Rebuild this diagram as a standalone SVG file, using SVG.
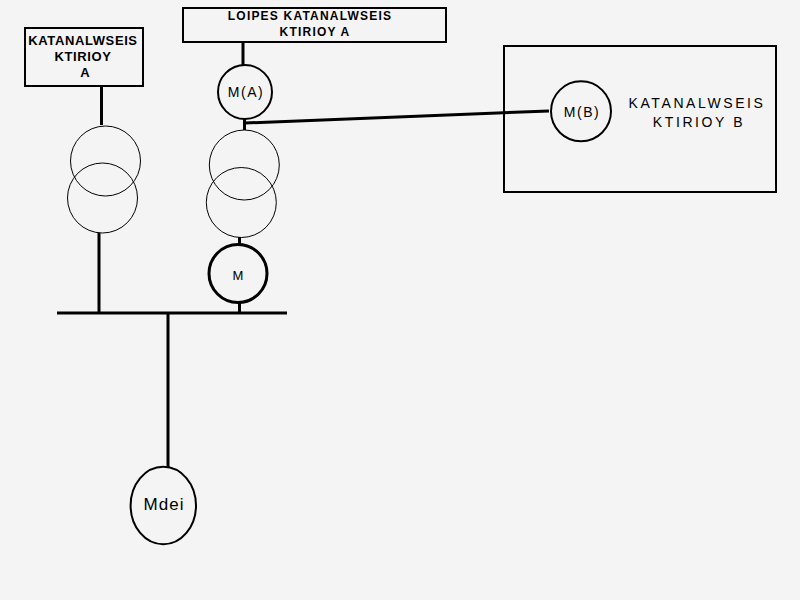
<svg xmlns="http://www.w3.org/2000/svg" width="800" height="600" viewBox="0 0 800 600">
<style>
.box{fill:none;stroke:#000;stroke-width:2}
.thin{fill:none;stroke:#000;stroke-width:1}
.med{fill:none;stroke:#000;stroke-width:2}
.thick{fill:none;stroke:#000;stroke-width:3}
.wire{stroke:#000;stroke-width:3;fill:none}
.lb{font-family:"Liberation Sans",Arial,sans-serif;font-weight:bold;text-anchor:middle;fill:#000}
.ln{font-family:"Liberation Sans",Arial,sans-serif;text-anchor:middle;fill:#000}
</style>
<rect width="800" height="600" fill="#f4f4f4"/>
<g id="connectors">
<line class="wire" x1="101.5" y1="86" x2="101.5" y2="125"/>
<line class="wire" x1="99" y1="233" x2="99" y2="313"/>
<line class="wire" x1="243" y1="42" x2="243" y2="66"/>
<line class="wire" x1="244.5" y1="118" x2="244.5" y2="130"/>
<line class="wire" x1="245" y1="123" x2="549" y2="111"/>
<line class="wire" x1="239.5" y1="237" x2="239.5" y2="245"/>
<line class="wire" x1="239.5" y1="302" x2="239.5" y2="313"/>
<line class="wire" x1="168" y1="313" x2="168" y2="467"/>
</g>
<g id="bus"><line class="wire" x1="57" y1="313" x2="287" y2="313"/></g>
<g id="box-a">
<rect class="box" x="25" y="28" width="118" height="58"/>
<text class="lb" font-size="13" letter-spacing="0.6" x="83" y="45">KATANALWSEIS</text>
<text class="lb" font-size="13" letter-spacing="0.6" x="83" y="61">KTIRIOY</text>
<text class="lb" font-size="13" x="85" y="77">A</text>
</g>
<g id="transformer-a">
<circle class="thin" cx="105.5" cy="161" r="35"/>
<circle class="thin" cx="102.5" cy="198" r="35"/>
</g>
<g id="box-loipes">
<rect class="box" x="183" y="8" width="263" height="34"/>
<text class="lb" font-size="12" letter-spacing="1.2" x="310" y="20">LOIPES KATANALWSEIS</text>
<text class="lb" font-size="12" letter-spacing="1.2" x="315" y="36">KTIRIOY A</text>
</g>
<g id="meter-a">
<circle class="med" cx="245" cy="92" r="27"/>
<text class="ln" font-size="14" letter-spacing="1.5" x="246" y="97">M(A)</text>
</g>
<g id="transformer-b">
<circle class="thin" cx="244.3" cy="165" r="35"/>
<circle class="thin" cx="241.3" cy="202.5" r="35"/>
</g>
<g id="meter-m">
<circle class="thick" cx="238" cy="273.5" r="29"/>
<text class="ln" font-size="13" x="238" y="280">M</text>
</g>
<g id="mdei">
<ellipse class="med" cx="163.3" cy="505.5" rx="32.7" ry="38.8"/>
<text class="ln" font-size="17" letter-spacing="1" x="164" y="510">Mdei</text>
</g>
<g id="building-b">
<rect class="box" x="504" y="46" width="272" height="146"/>
<text class="ln" font-size="14" letter-spacing="2.6" x="697" y="108">KATANALWSEIS</text>
<text class="ln" font-size="14" letter-spacing="2.6" x="699" y="127">KTIRIOY B</text>
</g>
<g id="meter-b">
<circle class="med" cx="581" cy="111.3" r="30"/>
<text class="ln" font-size="14" letter-spacing="1.5" x="582" y="117">M(B)</text>
</g>
</svg>
